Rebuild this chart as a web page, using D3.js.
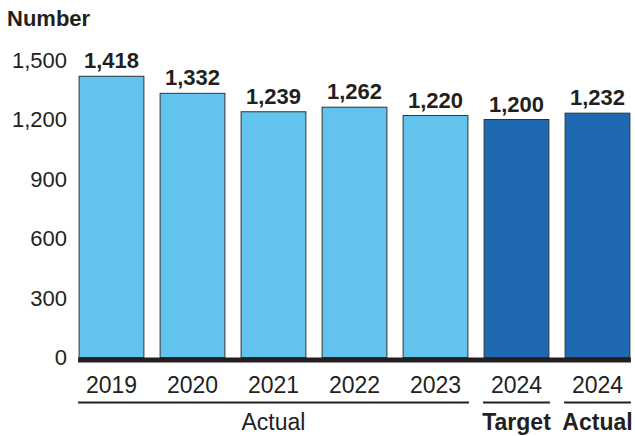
<!DOCTYPE html>
<html>
<head>
<meta charset="utf-8">
<script src="https://cdn.jsdelivr.net/npm/d3@7"></script>
<style>
  body { margin: 0; background: #fff; }
  text { font-family: "Liberation Sans", Arial, sans-serif; fill: #231f20; }
</style>
</head>
<body>
<div id="wrapper"></div>
<script>
const categories = ["2019", "2020", "2021", "2022", "2023", "2024 Target", "2024 Actual"]
const tickLabels = ["2019", "2020", "2021", "2022", "2023", "2024", "2024"]
const values = [1418, 1332, 1239, 1262, 1220, 1200, 1232]
const kinds = ["actual", "actual", "actual", "actual", "actual", "target", "actual2024"]
const yTicks = [0, 300, 600, 900, 1200, 1500]
const groups = [
    { label: "Actual", from: "2019", to: "2023", bold: false },
    { label: "Target", from: "2024 Target", to: "2024 Target", bold: true },
    { label: "Actual", from: "2024 Actual", to: "2024 Actual", bold: true }
]

const width = 635
const height = 436

const svg = d3.select("#wrapper")
    .append("svg")
    .attr("width", width)
    .attr("height", height)

// scales
const xScale = d3.scaleBand()
    .domain(categories)
    .range([71, 638])
    .paddingInner(0.2)
    .paddingOuter(0.1)

const yScale = d3.scaleLinear()
    .domain([0, 1500])
    .range([357.5, 60])

const color = d => d === "actual" ? "#62c4ee" : "#1f69b2"

// y axis title
svg.append("text")
    .attr("x", 7)
    .attr("y", 26)
    .attr("font-size", 22)
    .attr("font-weight", "bold")
    .text("Number")

// y tick labels
svg.append("g")
    .selectAll("text")
    .data(yTicks)
    .join("text")
    .attr("x", 67)
    .attr("y", d => yScale(d))
    .attr("dy", "0.36em")
    .attr("text-anchor", "end")
    .attr("font-size", 22)
    .text(d => d3.format(",")(d))

// bars
svg.append("g")
    .selectAll("rect")
    .data(categories)
    .join("rect")
    .attr("x", d => xScale(d))
    .attr("y", (d, i) => yScale(values[i]))
    .attr("width", xScale.bandwidth())
    .attr("height", (d, i) => yScale(0) - yScale(values[i]))
    .attr("fill", (d, i) => color(kinds[i]))
    .attr("stroke", "#333")
    .attr("stroke-width", 1)

// value labels
svg.append("g")
    .selectAll("text")
    .data(categories)
    .join("text")
    .attr("x", d => xScale(d) + xScale.bandwidth() / 2)
    .attr("y", (d, i) => yScale(values[i]) - 8)
    .attr("text-anchor", "middle")
    .attr("font-size", 22)
    .attr("font-weight", "bold")
    .text((d, i) => d3.format(",")(values[i]))

// baseline
svg.append("line")
    .attr("x1", xScale(categories[0]) - 1)
    .attr("x2", xScale(categories[categories.length - 1]) + xScale.bandwidth() + 1)
    .attr("y1", yScale(0) + 2.5)
    .attr("y2", yScale(0) + 2.5)
    .attr("stroke", "#231f20")
    .attr("stroke-width", 5)

// x tick labels
svg.append("g")
    .selectAll("text")
    .data(categories)
    .join("text")
    .attr("x", d => xScale(d) + xScale.bandwidth() / 2)
    .attr("y", 393)
    .attr("text-anchor", "middle")
    .attr("font-size", 23)
    .text((d, i) => tickLabels[i])

// group brackets
const groupG = svg.append("g")
    .selectAll("g")
    .data(groups)
    .join("g")

groupG.append("line")
    .attr("x1", d => xScale(d.from) - 1)
    .attr("x2", d => xScale(d.to) + xScale.bandwidth() + 1)
    .attr("y1", 402.5)
    .attr("y2", 402.5)
    .attr("stroke", "#231f20")
    .attr("stroke-width", 2)

groupG.append("text")
    .attr("x", d => (xScale(d.from) + xScale(d.to) + xScale.bandwidth()) / 2)
    .attr("y", 430)
    .attr("text-anchor", "middle")
    .attr("font-size", 23)
    .attr("font-weight", d => d.bold ? "bold" : "normal")
    .text(d => d.label)
</script>
</body>
</html>
